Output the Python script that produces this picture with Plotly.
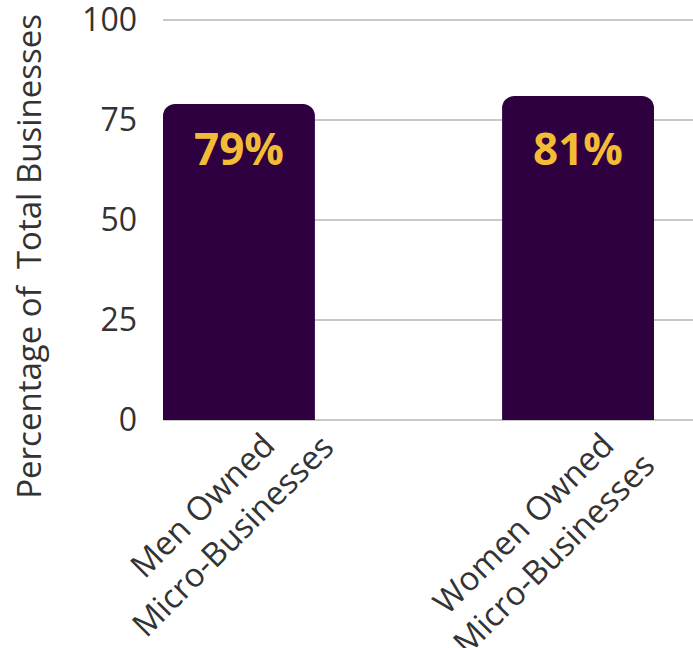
import plotly.graph_objects as go

categories = ["Men Owned<br>Micro-Businesses", "Women Owned<br>Micro-Businesses"]
values = [79, 81]
labels = ["79%", "81%"]
y_ticks = [0, 25, 50, 75, 100]
y_title = "Percentage of  Total Businesses"

BAR = "#2f0040"
GOLD = "#f2bc36"
TXT = "#333333"

fig = go.Figure()
fig.add_trace(go.Bar(
    x=categories,
    y=values,
    width=0.448,
    marker=dict(color=BAR, line=dict(width=0)),
    hoverinfo="skip",
))

# value labels, all on one level just under the shortest bar top
label_level = min(values)
for cat, lab in zip(categories, labels):
    fig.add_annotation(
        x=cat, y=label_level, xref="x", yref="y",
        text=lab, showarrow=False,
        xanchor="center", yanchor="middle", yshift=-44,
        font=dict(family="Open Sans", size=44, color=GOLD, weight="bold"),
    )

# rotated category labels (centre-aligned lines)
cat_shifts = [(-22, -100), (-40, -118)]
for cat, (dx, dy) in zip(categories, cat_shifts):
    fig.add_annotation(
        x=cat, y=0, xref="x", yref="y",
        text=cat, showarrow=False, textangle=-45, align="center",
        xanchor="center", yanchor="middle", xshift=dx, yshift=dy,
        font=dict(family="Open Sans", size=33, color=TXT),
    )

# y axis title
fig.add_annotation(
    x=0, y=0.404, xref="paper", yref="paper",
    text=y_title, showarrow=False, textangle=-90,
    xanchor="center", yanchor="middle", xshift=-134,
    font=dict(family="Open Sans", size=33, color=TXT),
)

fig.update_layout(
    width=693, height=648,
    margin=dict(l=163, r=0, t=16, b=228, autoexpand=False),
    paper_bgcolor="white", plot_bgcolor="white",
    barcornerradius=12,
    showlegend=False,
    font=dict(family="Open Sans", color=TXT),
)
fig.update_xaxes(
    range=[-0.224, 1.339],
    showticklabels=False,
    showgrid=False,
    showline=False,
    ticks="",
    automargin=False,
)
fig.update_yaxes(
    range=[0, 101],
    tickvals=y_ticks,
    tickfont=dict(size=32, color=TXT),
    showgrid=True, gridcolor="#c8c8c8", gridwidth=1.5,
    zeroline=True, zerolinecolor="#c8c8c8", zerolinewidth=2,
    ticks="", ticklabelstandoff=25, ticklabeloverflow="allow",
    automargin=False,
)

fig.write_html("out.html")
